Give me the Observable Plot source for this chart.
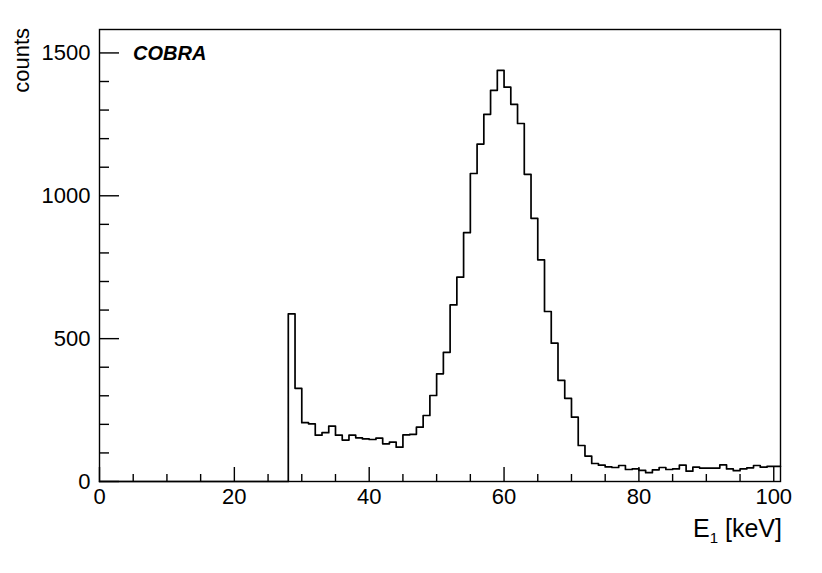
<!DOCTYPE html>
<html>
<head>
<meta charset="utf-8">
<script src="https://cdn.jsdelivr.net/npm/d3@7"></script>
<script src="https://cdn.jsdelivr.net/npm/@observablehq/plot@0.6"></script>
<style>
  html, body { margin: 0; padding: 0; background: #fff; }
  svg { display: block; }
</style>
</head>
<body>
<div id="chart"></div>
<script>
// Histogram: bin low edges start at xMin, width binWidth (keV)
const xMin = 0;
const binWidth = 1;
const counts = [
  0, 0, 0, 0, 0, 0, 0, 0, 0, 0,
  0, 0, 0, 0, 0, 0, 0, 0, 0, 0,
  0, 0, 0, 0, 0, 0, 0, 0, 587, 326,
  206, 202, 162, 171, 194, 162, 145, 162, 153, 149,
  147, 152, 132, 138, 120, 163, 165, 190, 231, 301,
  377, 452, 618, 715, 871, 1078, 1181, 1285, 1369, 1439,
  1380, 1320, 1253, 1075, 921, 776, 595, 484, 354, 291,
  225, 126, 89, 63, 57, 51, 49, 56, 42, 44,
  39, 31, 41, 49, 42, 44, 57, 36, 50, 47,
  47, 47, 58, 44, 38, 44, 48, 56, 50, 53,
  53
];
const xDomain = [0, 101];
const yDomain = [0, 1582];
const xMajor = [0, 20, 40, 60, 80, 100];
const xMinor = [5, 10, 15, 25, 30, 35, 45, 50, 55, 65, 70, 75, 85, 90, 95];
const yMajor = [0, 500, 1000, 1500];
const yMinor = [100, 200, 300, 400, 600, 700, 800, 900, 1100, 1200, 1300, 1400];
const xLabelMain = "E";
const xLabelSub = "1";
const xLabelUnit = " [keV]";
const yLabel = "counts";
const tagText = "COBRA";

const W = 822, H = 573;
const mL = 99, mR = 42, mT = 29, mB = 92;
const innerW = W - mL - mR, innerH = H - mT - mB;

// step outline points: each bin's low edge, plus closing high edge of the last bin
const pts = counts.map((c, i) => ({x: xMin + i * binWidth, y: c}));
pts.push({x: xMin + counts.length * binWidth, y: counts[counts.length - 1]});

const font = "'Liberation Sans', Arial, Helvetica, sans-serif";

const chart = Plot.plot({
  width: W,
  height: H,
  marginLeft: mL,
  marginRight: mR,
  marginTop: mT,
  marginBottom: mB,
  style: {fontFamily: font, fontSize: "22px", background: "#fff", color: "#000"},
  x: {domain: xDomain},
  y: {domain: yDomain},
  marks: [
    Plot.line(pts, {x: "x", y: "y", curve: "step-after", stroke: "#000", strokeWidth: 1.7}),
    Plot.tickX(xMajor, {x: d => d, stroke: "#000", strokeWidth: 1.4, insetTop: innerH - 14}),
    Plot.tickX(xMinor, {x: d => d, stroke: "#000", strokeWidth: 1.4, insetTop: innerH - 7}),
    Plot.tickY(yMajor, {y: d => d, stroke: "#000", strokeWidth: 1.4, insetRight: innerW - 20}),
    Plot.tickY(yMinor, {y: d => d, stroke: "#000", strokeWidth: 1.4, insetRight: innerW - 10}),
    Plot.axisX(xMajor, {tickSize: 0, tickPadding: 7, label: null, fontSize: 22, tickFormat: d => String(d)}),
    Plot.axisY(yMajor, {tickSize: 0, tickPadding: 9, label: null, fontSize: 22, tickFormat: d => String(d)}),
    Plot.frame({stroke: "#000", strokeWidth: 1.4})
  ]
});

const svg = d3.select(chart);

// y-axis title
svg.append("text")
  .attr("transform", "translate(28.5,28) rotate(-90)")
  .attr("text-anchor", "end")
  .attr("font-family", font)
  .attr("font-size", 22)
  .attr("fill", "#000")
  .text(yLabel);

// x-axis title with subscript
const xt = svg.append("text")
  .attr("x", 782)
  .attr("y", 537)
  .attr("text-anchor", "end")
  .attr("font-family", font)
  .attr("font-size", 25)
  .attr("fill", "#000");
xt.append("tspan").text(xLabelMain);
xt.append("tspan").attr("font-size", 15).attr("dy", 6).text(xLabelSub);
xt.append("tspan").attr("dy", -6).text(xLabelUnit);

// tag
svg.append("text")
  .attr("x", 133)
  .attr("y", 59.5)
  .attr("text-anchor", "start")
  .attr("font-family", font)
  .attr("font-size", 20)
  .attr("font-weight", "bold")
  .attr("font-style", "italic")
  .attr("fill", "#000")
  .text(tagText);

document.getElementById("chart").appendChild(chart);
</script>
</body>
</html>
